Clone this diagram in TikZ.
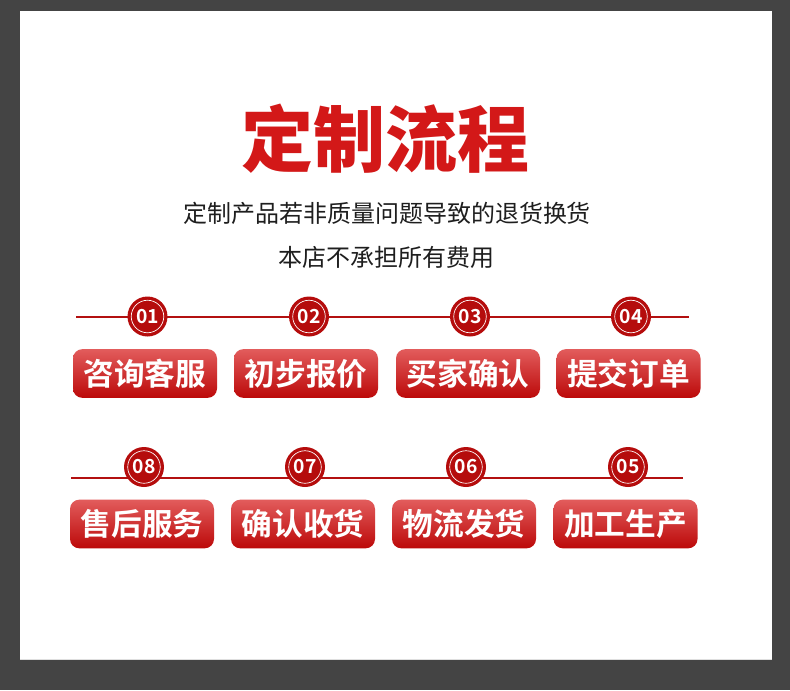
\documentclass[tikz,border=0pt]{standalone}
\usepackage{fontspec}
\newfontfamily\cjk{Noto Sans CJK SC}[BoldFont={Noto Sans CJK SC Bold}]
\newfontfamily\cjkblack{Noto Sans CJK SC Black}
\usetikzlibrary{positioning}
\definecolor{pagegray}{HTML}{444444}
\definecolor{titlered}{HTML}{D31818}
\definecolor{boxtop}{HTML}{E25C5C}
\definecolor{boxmid}{HTML}{C81010}
\definecolor{boxbot}{HTML}{BC0909}
\definecolor{dotred}{HTML}{B50C0C}
\definecolor{linered}{HTML}{B31010}
\definecolor{subtext}{HTML}{1E1E1E}
\tikzset{
    headline/.style={inner sep=0pt, text=titlered, font=\cjkblack\fontsize{54}{54}\selectfont},
    notice/.style={inner sep=0pt, text=subtext, font=\cjk\fontsize{18}{18}\selectfont},
    stepnum/.style={circle, fill=dotred, minimum size=30pt, inner sep=0pt, text=white, font=\cjk\bfseries\fontsize{14.5}{14.5}\selectfont,
        path picture={\draw[white, line width=0.5pt] (path picture bounding box.center) circle (12.2pt);}},
    stepbox/.style={rectangle, rounded corners=7pt, minimum width=108pt, minimum height=36.5pt, inner sep=0pt,
        top color=boxtop, middle color=boxmid, bottom color=boxbot, shading angle=0, text=white, font=\cjk\bfseries\fontsize{23}{23}\selectfont},
    timeline/.style={draw=linered, line width=1.5pt}
}

\begin{document}
\begin{tikzpicture}[x=0.75pt, y=-0.75pt]

    % -----------------------------------------------------------------
    % SFONDO
    % -----------------------------------------------------------------
    \useasboundingbox (0,0) rectangle (790,690);
    \fill[pagegray] (0,0) rectangle (790,690);
    \fill[white] (20,11) rectangle (772,659);
    \draw[gray!25, line width=0.8pt] (20,659.5) -- (772,659.5);

    % -----------------------------------------------------------------
    % TITOLO
    % -----------------------------------------------------------------
    \node[headline] (title) at (385,139) {定制流程};
    \node[notice] (note1) at (387,213) {定制产品若非质量问题导致的退货换货};
    \node[notice] (note2) at (386,257) {本店不承担所有费用};

    % -----------------------------------------------------------------
    % PRIMA RIGA
    % -----------------------------------------------------------------
    \coordinate (rowAa) at (76,317);
    \coordinate (rowAb) at (689,317);
    \draw[timeline] (rowAa) -- (rowAb);
    \foreach \cx/\bx/\num/\txt [count=\i] in {147.5/145/01/咨询客服, 309/306/02/初步报价, 470/468/03/买家确认, 631/628.5/04/提交订单} {
        \node[stepnum] (n\i) at (\cx,316.5) {\num};
        \node[stepbox] (b\i) at (\bx,373.5) {\txt};
    }

    % -----------------------------------------------------------------
    % SECONDA RIGA
    % -----------------------------------------------------------------
    \coordinate (rowBa) at (71,478);
    \coordinate (rowBb) at (683,478);
    \draw[timeline] (rowBa) -- (rowBb);
    \foreach \cx/\bx/\num/\txt [count=\i from 5] in {628/625.5/05/加工生产, 466/464/06/物流发货, 305/303/07/确认收货, 144/142/08/售后服务} {
        \node[stepnum] (n\i) at (\cx,467) {\num};
        \node[stepbox] (b\i) at (\bx,524) {\txt};
    }

\end{tikzpicture}
\end{document}
